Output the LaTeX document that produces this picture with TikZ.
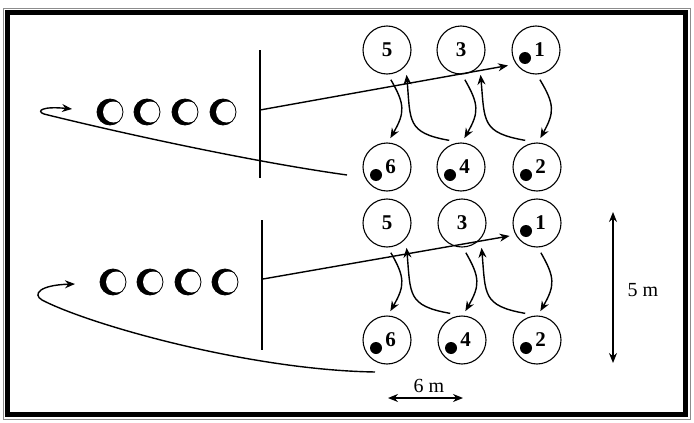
\documentclass[tikz,border=0pt]{standalone}
\usepackage{fontspec}
\setmainfont{Liberation Serif}
\usetikzlibrary{arrows.meta,calc}

\begin{document}
\begin{tikzpicture}[x=1pt, y=-1pt,
    spot/.style={circle, draw, line width=1.1pt, minimum size=48pt, inner sep=0pt,
                 font=\fontsize{21}{22}\selectfont\bfseries},
    ball/.style={spot, path picture={\fill ($(path picture bounding box.center)+(-11pt,-8pt)$) circle (6pt);}},
    player/.style={circle, draw, line width=0.8pt, fill=black, minimum size=26pt, inner sep=0pt,
                   path picture={\fill[white] ($(path picture bounding box.center)+(3.5pt,0pt)$) circle (10.5pt);}},
    run/.style={-{Stealth[length=10pt,width=8pt]}, line width=1.4pt},
    down/.style={run, shorten <=6pt, shorten >=5pt, bend left=30, looseness=1.3},
    up/.style={run, shorten <=12pt, shorten >=9pt, out=170, in=-85, looseness=1.5},
    dim/.style={{Stealth[length=10pt,width=8pt]}-{Stealth[length=10pt,width=8pt]}, line width=1.4pt},
    lbl/.style={font=\fontsize{20}{22}\selectfont}]
\useasboundingbox (0,0) rectangle (694,423);
% frame
\draw[line width=0.8pt, black!45] (3,8) rectangle (690,419);
\draw[line width=5.5pt] (7.5,12.5) rectangle (685.5,414.5);

% upper drill
\node[spot] (a5) at (387,50) {5};
\node[spot] (a3) at (461,50) {3};
\node[ball] (a1) at (536,50) {\hspace*{7pt}1};
\node[ball] (a6) at (387,167) {\hspace*{7pt}6};
\node[ball] (a4) at (461,167) {\hspace*{7pt}4};
\node[ball] (a2) at (537,167) {\hspace*{7pt}2};
\node[player] (p1) at (110,112) {};
\node[player] (p2) at (147,112) {};
\node[player] (p3) at (185,112) {};
\node[player] (p4) at (223,112) {};
\coordinate (ta) at (260,50);
\coordinate (tb) at (260,178);
\coordinate (ts) at (260,110);
\coordinate (tr) at (347,175);
\coordinate (tl) at (72,109);
\draw[line width=2pt] (ta) -- (tb);
\draw[run, shorten >=8pt] (ts) -- (a1.215);
\draw[down] (a5.-88) to (a6.88);
\draw[down] (a3.-88) to (a4.88);
\draw[down] (a1.-88) to (a2.88);
\draw[up] (a4.north) to (a5.-40);
\draw[up] (a2.north) to (a3.-40);
\draw[run] (tr) .. controls (240,160) and (100,128) .. (44,114)
    .. controls (36,111) and (42,106) .. (tl);

% lower drill
\node[spot] (b5) at (387,223) {5};
\node[spot] (b3) at (462,223) {3};
\node[ball] (b1) at (537,223) {\hspace*{7pt}1};
\node[ball] (b6) at (387,340) {\hspace*{7pt}6};
\node[ball] (b4) at (462,340) {\hspace*{7pt}4};
\node[ball] (b2) at (537,340) {\hspace*{7pt}2};
\node[player] (q1) at (113,282) {};
\node[player] (q2) at (150,282) {};
\node[player] (q3) at (188,282) {};
\node[player] (q4) at (225,282) {};
\coordinate (ua) at (262,220);
\coordinate (ub) at (262,350);
\coordinate (us) at (263,279);
\coordinate (br) at (375,372);
\coordinate (bl) at (75,284);
\draw[line width=2pt] (ua) -- (ub);
\draw[run, shorten >=6pt] (us) -- (b1.209);
\draw[down] (b5.-88) to (b6.88);
\draw[down] (b3.-88) to (b4.88);
\draw[down] (b1.-88) to (b2.88);
\draw[up] (b4.north) to (b5.-40);
\draw[up] (b2.north) to (b3.-40);
\draw[run] (br) .. controls (250,370) and (90,325) .. (42,300)
    .. controls (32,294) and (40,285) .. (bl);

% distances
\coordinate (v1) at (613,212);
\coordinate (v2) at (613,363);
\coordinate (h1) at (388,398);
\coordinate (h2) at (463,398);
\draw[dim] (v1) -- (v2);
\draw[dim] (h1) -- (h2);
\node[lbl] (vl) at (643,290) {5 m};
\node[lbl] (hl) at (429,386) {6 m};
\end{tikzpicture}
\end{document}
